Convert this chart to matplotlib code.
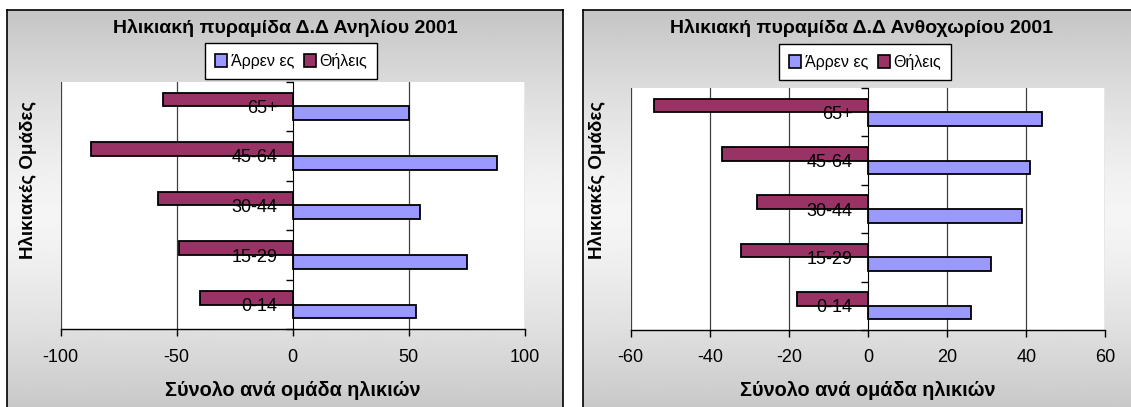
import numpy as np
import matplotlib
matplotlib.use("Agg")
import matplotlib.pyplot as plt
from matplotlib.patches import Patch

plt.rcParams['font.family'] = ['Liberation Sans', 'DejaVu Sans']

## DATA ##
groups = ["0-14", "15-29", "30-44", "45-64", "65+"]
anilio_male = [53, 75, 55, 88, 50]
anilio_female = [-40, -49, -58, -87, -56]
anthoxori_male = [26, 31, 39, 41, 44]
anthoxori_female = [-18, -32, -28, -37, -54]
titles = ["Ηλικιακή πυραμίδα Δ.Δ Ανηλίου 2001",
          "Ηλικιακή πυραμίδα Δ.Δ Ανθοχωρίου 2001"]
xticks_left = [-100, -50, 0, 50, 100]
xticks_right = [-60, -40, -20, 0, 20, 40, 60]
legend_labels = ["Άρρεν ες", "Θήλεις"]
xlabel = "Σύνολο ανά ομάδα ηλικιών"
ylabel = "Ηλικιακές Ομάδες"

male_col = "#9999ff"
female_col = "#993366"

W, H = 1131, 407
fig = plt.figure(figsize=(W / 100, H / 100), dpi=100)


def rect(x0, y0, x1, y1):
    return [x0 / W, 1 - y1 / H, (x1 - x0) / W, (y1 - y0) / H]


# vertical gradient for the chart frames
t = np.linspace(-1, 1, 300)
grad = 0.77 + 0.19 * (1 - np.abs(t) ** 1.4)
grad = np.tile(grad[:, None], (1, 10))

panels = [
    dict(frame=(7, 10, 563, 420), plot=(60.7, 81.7, 524.7, 329.3),
         male=anilio_male, female=anilio_female, xt=xticks_left,
         title=titles[0], tcx=285, leg=(291, 61), ylx=28, xlcx=292.7),
    dict(frame=(583, 10, 1140, 420), plot=(630.7, 88, 1105.3, 330),
         male=anthoxori_male, female=anthoxori_female, xt=xticks_right,
         title=titles[1], tcx=861, leg=(865, 62), ylx=597, xlcx=868),
]

pos = np.arange(len(groups))
h = 0.28

for p in panels:
    bg = fig.add_axes(rect(*p["frame"]), zorder=0)
    bg.imshow(grad, aspect="auto", cmap="gray", vmin=0, vmax=1,
              extent=[0, 1, 0, 1])
    bg.set_xticks([])
    bg.set_yticks([])
    for s in bg.spines.values():
        s.set_color("black")
        s.set_linewidth(1.2)

    ax = fig.add_axes(rect(*p["plot"]), zorder=1)
    ax.set_facecolor("white")
    ax.set_axisbelow(False)
    ax.barh(pos - h / 2, p["male"], height=h, color=male_col,
            edgecolor="black", lw=1.3, zorder=1)
    ax.barh(pos + h / 2, p["female"], height=h, color=female_col,
            edgecolor="black", lw=1.3, zorder=1)
    xt = p["xt"]
    ax.set_xlim(xt[0], xt[-1])
    ax.set_ylim(-0.5, len(groups) - 0.5)
    for v in xt:
        if v != 0:
            ax.axvline(v, color="#404040", lw=0.9, zorder=0.5)

    ax.spines["top"].set_visible(False)
    ax.spines["right"].set_visible(False)
    ax.spines["left"].set_position(("data", 0))
    ax.spines["bottom"].set_linewidth(1.0)
    ax.set_xticks(xt)
    ax.set_xticklabels([str(v) for v in xt], fontsize=13)
    ax.tick_params(axis="x", direction="out", length=5, width=1, pad=9)
    ax.set_yticks(pos)
    ax.set_yticklabels(groups, fontsize=13)
    ax.set_yticks(np.arange(len(groups) + 1) - 0.5, minor=True)
    ax.tick_params(axis="y", which="major", length=0, pad=11)
    ax.tick_params(axis="y", which="minor", direction="out", length=5, width=1)

    fig.text(p["tcx"] / W, 1 - 28 / H, p["title"], ha="center", va="center",
             fontsize=14, fontweight="bold")
    fig.text(p["xlcx"] / W, 1 - 390 / H, xlabel, ha="center", va="center",
             fontsize=14.3, fontweight="bold")
    fig.text(p["ylx"] / W, 1 - 180 / H, ylabel, ha="center", va="center",
             rotation=90, fontsize=13.5, fontweight="bold")

    handles = [Patch(facecolor=male_col, edgecolor="black", lw=1.2),
               Patch(facecolor=female_col, edgecolor="black", lw=1.2)]
    leg = fig.legend(handles, legend_labels, loc="center",
                     bbox_to_anchor=(p["leg"][0] / W, 1 - p["leg"][1] / H),
                     ncol=2, fontsize=11.5, frameon=True, fancybox=False,
                     edgecolor="black", framealpha=1, handlelength=0.8,
                     handleheight=0.8, handletextpad=0.2, columnspacing=0.6,
                     borderpad=0.6)
    leg.get_frame().set_linewidth(1.0)
    leg.set_zorder(5)

fig.savefig("out.png", dpi=100)
